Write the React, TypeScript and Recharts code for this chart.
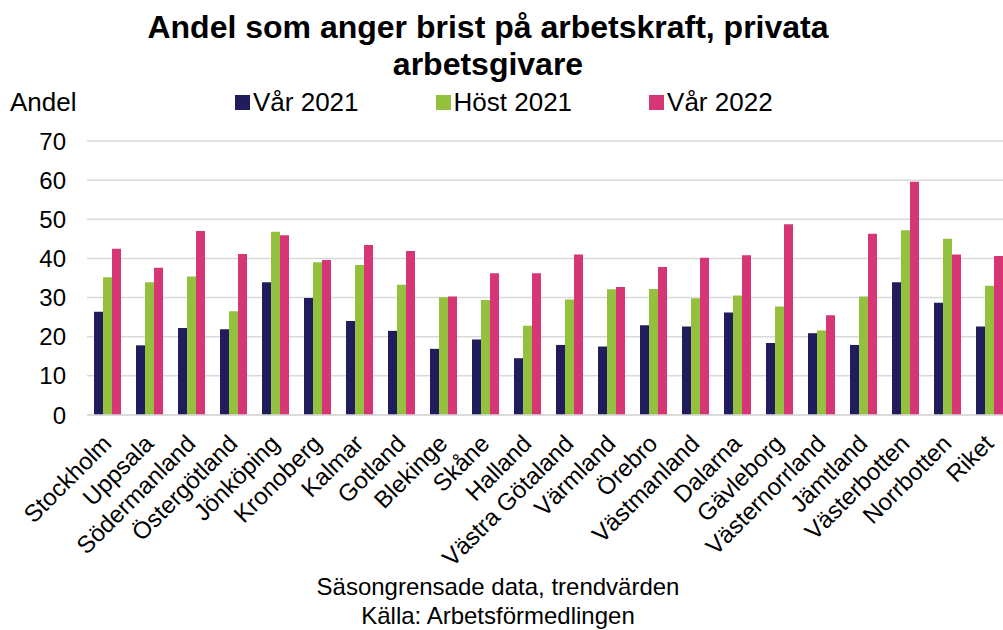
import React from 'react';
import { BarChart, Bar, XAxis, YAxis, CartesianGrid } from 'recharts';

const categories = ['Stockholm', 'Uppsala', 'Södermanland', 'Östergötland', 'Jönköping', 'Kronoberg', 'Kalmar', 'Gotland', 'Blekinge', 'Skåne', 'Halland', 'Västra Götaland', 'Värmland', 'Örebro', 'Västmanland', 'Dalarna', 'Gävleborg', 'Västernorrland', 'Jämtland', 'Västerbotten', 'Norrbotten', 'Riket'];
const var2021 = [26.4, 17.8, 22.2, 21.9, 33.9, 29.9, 24.0, 21.5, 16.9, 19.3, 14.5, 17.9, 17.5, 22.9, 22.6, 26.2, 18.4, 20.9, 17.9, 33.9, 28.7, 22.6];
const host2021 = [35.2, 33.9, 35.4, 26.5, 46.8, 39.0, 38.3, 33.3, 30.1, 29.4, 22.8, 29.5, 32.1, 32.2, 29.8, 30.5, 27.7, 21.6, 30.3, 47.2, 45.0, 33.0];
const var2022 = [42.5, 37.6, 47.0, 41.1, 45.9, 39.6, 43.4, 41.9, 30.3, 36.2, 36.2, 41.0, 32.7, 37.8, 40.2, 40.8, 48.7, 25.5, 46.3, 59.6, 41.0, 40.6];
const yTicks = [0, 10, 20, 30, 40, 50, 60, 70];
const seriesKeys = ['v21', 'h21', 'v22'];
const seriesNames = ['Vår 2021', 'Höst 2021', 'Vår 2022'];
const seriesColors = ['#211C5C', '#93C13E', '#D63675'];
const titleLines = ['Andel som anger brist på arbetskraft, privata', 'arbetsgivare'];
const yLabel = 'Andel';
const footerLines = ['Säsongrensade data, trendvärden', 'Källa: Arbetsförmedlingen'];

const data = categories.map((c, i) => ({ name: c, v21: var2021[i], h21: host2021[i], v22: var2022[i] }));

const FONT = '"Liberation Sans", Arial, sans-serif';

const XTick = (props: any) => {
  const { x, y, payload } = props;
  const tx = x + 5;
  const ty = y + 30;
  return (
    <text x={tx} y={ty} transform={`rotate(-45, ${tx}, ${ty})`} textAnchor="end" fontSize={24} fill="#000" fontFamily={FONT}>
      {payload.value}
    </text>
  );
};

export default function App() {
  return (
    <div style={{ position: 'absolute', left: 0, top: 0, width: 1003, height: 630, overflow: 'hidden', background: '#fff', fontFamily: FONT }}>
      <BarChart
        width={1012}
        height={630}
        data={data}
        margin={{ top: 141, right: 1, bottom: 0, left: 0 }}
        barCategoryGap="16.7%"
        barGap={0}
      >
        <CartesianGrid vertical={false} stroke="#d9d9d9" strokeWidth={1.5} />
        <XAxis
          dataKey="name"
          interval={0}
          height={215}
          tickSize={0}
          tickMargin={0}
          tick={<XTick />}
          axisLine={{ stroke: '#d9d9d9', strokeWidth: 1.5 }}
          tickLine={false}
        />
        <YAxis
          width={87}
          domain={[0, 70]}
          ticks={yTicks}
          tickSize={0}
          tickMargin={21}
          axisLine={false}
          tickLine={false}
          tick={{ fontSize: 24, fill: '#000', fontFamily: FONT }}
        />
        {seriesKeys.map((k, i) => (
          <Bar key={k} dataKey={k} name={seriesNames[i]} fill={seriesColors[i]} isAnimationActive={false} />
        ))}
      </BarChart>
      <svg width={1003} height={630} style={{ position: 'absolute', left: 0, top: 0, pointerEvents: 'none' }}>
        <text x={488} y={38} textAnchor="middle" fontSize={32} fontWeight="bold" fill="#000" fontFamily={FONT}>{titleLines[0]}</text>
        <text x={488} y={75} textAnchor="middle" fontSize={32} fontWeight="bold" fill="#000" fontFamily={FONT}>{titleLines[1]}</text>
        <text x={10} y={111} fontSize={26} fill="#000" fontFamily={FONT}>{yLabel}</text>
        <text x={498} y={595} textAnchor="middle" fontSize={24} fill="#000" fontFamily={FONT}>{footerLines[0]}</text>
        <text x={498} y={624} textAnchor="middle" fontSize={24} fill="#000" fontFamily={FONT}>{footerLines[1]}</text>
      </svg>
      <div style={{ position: 'absolute', left: 235, top: 89, display: 'flex', columnGap: 77, fontSize: 26, lineHeight: '26px', color: '#000' }}>
        {seriesNames.map((n, i) => (
          <div key={n} style={{ display: 'flex', alignItems: 'center' }}>
            <span style={{ display: 'inline-block', width: 15, height: 15, background: seriesColors[i], marginRight: 3 }} />
            <span style={{ whiteSpace: 'nowrap' }}>{n}</span>
          </div>
        ))}
      </div>
    </div>
  );
}
